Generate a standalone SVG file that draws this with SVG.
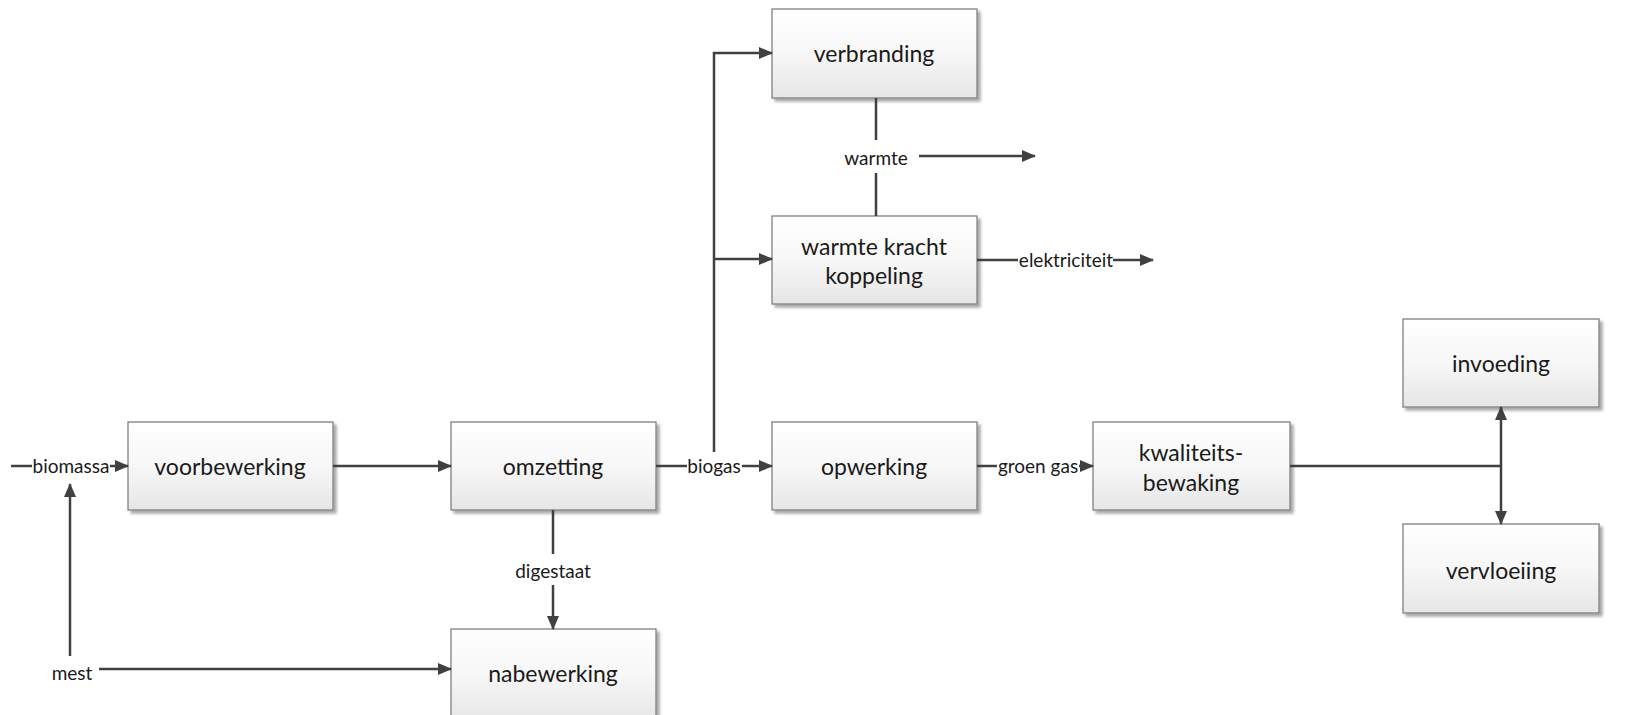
<svg xmlns="http://www.w3.org/2000/svg" width="1625" height="715" viewBox="0 0 1625 715">
<defs>
<linearGradient id="boxg" x1="0" y1="0" x2="0" y2="1">
<stop offset="0" stop-color="#ffffff"/>
<stop offset="0.5" stop-color="#f7f7f7"/>
<stop offset="1" stop-color="#e6e6e6"/>
</linearGradient>
<filter id="sh" x="-5%" y="-5%" width="115%" height="120%">
<feGaussianBlur in="SourceAlpha" stdDeviation="1.5"/>
<feOffset dx="3" dy="3" result="o"/>
<feComponentTransfer><feFuncA type="linear" slope="0.35"/></feComponentTransfer>
<feMerge><feMergeNode/><feMergeNode in="SourceGraphic"/></feMerge>
</filter>
<marker id="ah" markerUnits="userSpaceOnUse" markerWidth="14" markerHeight="12" refX="13" refY="6" orient="auto">
<path d="M0,0 L14,6 L0,12 z" fill="#404040"/>
</marker>
</defs>
<style>
.box{fill:url(#boxg);stroke:#808080;stroke-width:1.3;filter:url(#sh)}
.bt{font-family:Lato,"Liberation Sans",sans-serif;font-size:23px;fill:#1a1a1a;text-anchor:middle;dominant-baseline:central}
.lt{font-family:Lato,"Liberation Sans",sans-serif;font-size:19px;fill:#1a1a1a;text-anchor:middle;dominant-baseline:central}
.c{stroke:#404040;stroke-width:2.5;fill:none}
.a{marker-end:url(#ah)}
</style>
<rect width="1625" height="715" fill="#ffffff"/>
<g id="voorbewerking"><rect class="box" x="128" y="422" width="205" height="88"/><text class="bt" x="230" y="466">voorbewerking</text></g>
<g id="omzetting"><rect class="box" x="451" y="422" width="205" height="88"/><text class="bt" x="553" y="466">omzetting</text></g>
<g id="opwerking"><rect class="box" x="772" y="422" width="205" height="88"/><text class="bt" x="874" y="466">opwerking</text></g>
<g id="kwaliteitsbewaking"><rect class="box" x="1093" y="422" width="197" height="88"/><text class="bt" x="1191" y="452">kwaliteits-</text><text class="bt" x="1191" y="482">bewaking</text></g>
<g id="invoeding"><rect class="box" x="1403" y="319" width="196" height="88"/><text class="bt" x="1501" y="363">invoeding</text></g>
<g id="vervloeiing"><rect class="box" x="1403" y="524" width="196" height="89"/><text class="bt" x="1501" y="570">vervloeiing</text></g>
<g id="verbranding"><rect class="box" x="772" y="9" width="205" height="89"/><text class="bt" x="874" y="53">verbranding</text></g>
<g id="wkk"><rect class="box" x="772" y="216" width="205" height="88"/><text class="bt" x="874" y="246">warmte kracht</text><text class="bt" x="874" y="275">koppeling</text></g>
<g id="nabewerking"><rect class="box" x="451" y="629" width="205" height="92"/><text class="bt" x="553" y="673">nabewerking</text></g>
<g id="connectors">
<line class="c" x1="11" y1="466" x2="32" y2="466"/>
<text class="lt" x="71" y="465">biomassa</text>
<line class="c a" x1="110" y1="466" x2="128" y2="466"/>
<line class="c a" x1="70" y1="656" x2="70" y2="484"/>
<text class="lt" x="72" y="672">mest</text>
<line class="c a" x1="99" y1="669" x2="451" y2="669"/>
<line class="c a" x1="333" y1="466" x2="451" y2="466"/>
<line class="c" x1="656" y1="466" x2="687" y2="466"/>
<text class="lt" x="714" y="465">biogas</text>
<line class="c a" x1="742" y1="466" x2="772" y2="466"/>
<polyline class="c a" points="714,452 714,53 772,53"/>
<line class="c a" x1="714" y1="259" x2="772" y2="259"/>
<line class="c" x1="553" y1="510" x2="553" y2="554"/>
<text class="lt" x="553" y="570">digestaat</text>
<line class="c a" x1="553" y1="585" x2="553" y2="629"/>
<line class="c" x1="876" y1="98" x2="876" y2="140"/>
<text class="lt" x="876" y="157">warmte</text>
<line class="c" x1="876" y1="173" x2="876" y2="216"/>
<line class="c a" x1="919" y1="156" x2="1035" y2="156"/>
<line class="c" x1="977" y1="260" x2="1018" y2="260"/>
<text class="lt" x="1066" y="259">elektriciteit</text>
<line class="c a" x1="1113" y1="260" x2="1153" y2="260"/>
<line class="c" x1="977" y1="466" x2="997" y2="466"/>
<text class="lt" x="1038" y="465">groen gas</text>
<line class="c a" x1="1079" y1="466" x2="1093" y2="466"/>
<line class="c" x1="1290" y1="466" x2="1501" y2="466"/>
<line class="c a" x1="1501" y1="466" x2="1501" y2="407"/>
<line class="c a" x1="1501" y1="466" x2="1501" y2="524"/>
</g>
</svg>
